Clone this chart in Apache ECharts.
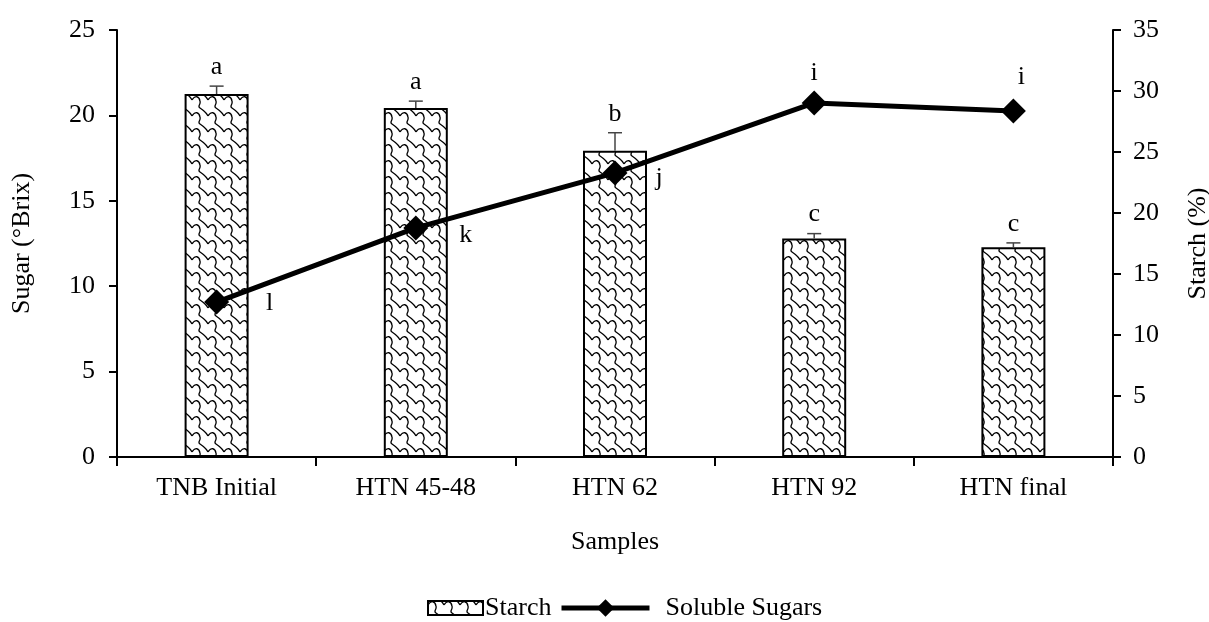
<!DOCTYPE html>
<html>
<head>
<meta charset="utf-8">
<script src="https://cdn.jsdelivr.net/npm/echarts@6/dist/echarts.min.js"></script>
<style>html,body{margin:0;padding:0;background:#fff}#c{width:1209px;height:622px}</style>
</head>
<body>
<div id="c"></div>
<script>
const categories = ['TNB Initial', 'HTN 45-48', 'HTN 62', 'HTN 92', 'HTN final'];
const starch = [29.75, 28.6, 25.1, 17.9, 17.2];
const starchErr = [0.65, 0.57, 1.48, 0.41, 0.35];
const starchLetters = ['a', 'a', 'b', 'c', 'c'];
const sugar = [9.07, 13.41, 16.63, 20.73, 20.26];
const sugarLetters = ['l', 'k', 'j', 'i', 'i'];
const sugarAxis = { min: 0, max: 25, interval: 5 };
const starchAxis = { min: 0, max: 35, interval: 5 };

const FONT = 'Liberation Serif';

// wave pattern tile
function makeTile() {
  const c = document.createElement('canvas');
  c.width = 16; c.height = 16;
  const ctx = c.getContext('2d');
  ctx.fillStyle = '#fff';
  ctx.fillRect(0, 0, 16, 16);
  ctx.strokeStyle = '#000';
  ctx.lineWidth = 1.3;
  for (const dy of [-16, 0, 16]) {
    ctx.beginPath();
    ctx.moveTo(0, 4 + dy);
    ctx.bezierCurveTo(3, -1 + dy, 7, 0 + dy, 8, 5 + dy);
    ctx.bezierCurveTo(9, 9 + dy, 5, 10 + dy, 8, 12 + dy);
    ctx.bezierCurveTo(11, 14 + dy, 14, 16 + dy, 16, 20 + dy);
    ctx.stroke();
  }
  return c;
}
const pattern = { image: makeTile(), repeat: 'repeat' };

// label layout for sugar letters (style only)
const sugarLabelLayout = [
  { position: 'right', distance: 37, offset: [0, 1] },
  { position: 'right', distance: 31, offset: [0, 7] },
  { position: 'right', distance: 28, offset: [0, 5] },
  { position: 'top', distance: 4, offset: [0, 0] },
  { position: 'top', distance: 8, offset: [8, 0] }
];

const chart = echarts.init(document.getElementById('c'));
chart.setOption({
  animation: false,
  backgroundColor: '#fff',
  textStyle: { fontFamily: FONT, color: '#000' },
  grid: { left: 117, right: 96, top: 30, bottom: 165, containLabel: false, outerBoundsMode: 'none' },
  legend: [
    {
      data: [{ name: 'Starch', icon: 'rect' }],
      left: 427, top: 595, padding: 0,
      itemWidth: 55, itemHeight: 14,
      textStyle: { fontFamily: FONT, fontSize: 26, color: '#000', padding: [0, 0, 0, -3] }
    },
    {
      data: [{ name: 'Soluble Sugars', lineStyle: { width: 5, color: '#000' } }],
      left: 559, top: 595, padding: 0,
      itemWidth: 88, itemHeight: 22,
      textStyle: { fontFamily: FONT, fontSize: 26, color: '#000', padding: [0, 0, 0, 11] }
    }
  ],
  xAxis: {
    type: 'category',
    data: categories,
    name: 'Samples',
    nameLocation: 'middle',
    nameGap: 72,
    nameTextStyle: { fontFamily: FONT, fontSize: 26, color: '#000' },
    axisLine: { lineStyle: { color: '#000', width: 2 } },
    axisTick: { show: true, length: 9, lineStyle: { color: '#000', width: 2 } },
    axisLabel: { fontFamily: FONT, fontSize: 26, color: '#000', margin: 18 }
  },
  yAxis: [
    {
      type: 'value',
      min: sugarAxis.min, max: sugarAxis.max, interval: sugarAxis.interval,
      name: 'Sugar (\u00B0Brix)',
      nameLocation: 'middle',
      nameRotate: 90,
      nameGap: 82,
      nameTextStyle: { fontFamily: FONT, fontSize: 26, color: '#000' },
      axisLine: { show: true, lineStyle: { color: '#000', width: 2 } },
      axisTick: { show: true, length: 8, lineStyle: { color: '#000', width: 2 } },
      axisLabel: { fontFamily: FONT, fontSize: 26, color: '#000', margin: 22 },
      splitLine: { show: false }
    },
    {
      type: 'value',
      position: 'right',
      min: starchAxis.min, max: starchAxis.max, interval: starchAxis.interval,
      name: 'Starch (%)',
      nameLocation: 'middle',
      nameRotate: 90,
      nameGap: 72,
      nameTextStyle: { fontFamily: FONT, fontSize: 26, color: '#000' },
      axisLine: { show: true, lineStyle: { color: '#000', width: 2 } },
      axisTick: { show: true, length: 8, lineStyle: { color: '#000', width: 2 } },
      axisLabel: { fontFamily: FONT, fontSize: 26, color: '#000', margin: 20 },
      splitLine: { show: false }
    }
  ],
  series: [
    {
      name: 'Starch',
      type: 'bar',
      yAxisIndex: 1,
      data: starch,
      barWidth: 64,
      itemStyle: { color: pattern, borderColor: '#000', borderWidth: 2 },
      z: 2
    },
    {
      name: 'StarchErr',
      type: 'custom',
      yAxisIndex: 1,
      data: starch.map((v, i) => [i, v, starchErr[i]]),
      renderItem: function (params, api) {
        const i = api.value(0);
        const top = api.coord([i, api.value(1)]);
        const hi = api.coord([i, api.value(1) + api.value(2)]);
        return {
          type: 'group',
          children: [
            { type: 'line', shape: { x1: top[0], y1: top[1], x2: hi[0], y2: hi[1] }, style: { stroke: '#444', lineWidth: 1.5 } },
            { type: 'line', shape: { x1: hi[0] - 7, y1: hi[1], x2: hi[0] + 7, y2: hi[1] }, style: { stroke: '#444', lineWidth: 1.5 } },
            { type: 'text', style: { x: hi[0], y: hi[1] - 19, text: starchLetters[params.dataIndex], fill: '#000', font: '26px "' + FONT + '"', textAlign: 'center', textVerticalAlign: 'middle' } }
          ]
        };
      },
      z: 3
    },
    {
      name: 'Soluble Sugars',
      type: 'line',
      yAxisIndex: 0,
      data: sugar.map((v, i) => ({
        value: v,
        label: {
          show: true,
          formatter: sugarLetters[i],
          position: sugarLabelLayout[i].position,
          distance: sugarLabelLayout[i].distance,
          offset: sugarLabelLayout[i].offset,
          fontFamily: FONT, fontSize: 26, color: '#000'
        }
      })),
      symbol: 'diamond',
      symbolSize: 25,
      lineStyle: { color: '#000', width: 5 },
      itemStyle: { color: '#000' },
      z: 5
    }
  ]
});
</script>
</body>
</html>
